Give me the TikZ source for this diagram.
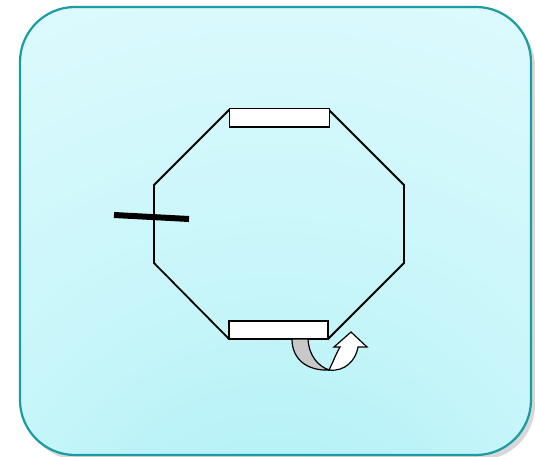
\documentclass[tikz,border=0pt]{standalone}
\usetikzlibrary{shadows}
\definecolor{frameteal}{RGB}{26,156,162}
\definecolor{cA}{RGB}{166,237,244}
\definecolor{cB}{RGB}{200,246,250}
\definecolor{cC}{RGB}{232,252,255}
\definecolor{bandgray}{RGB}{200,200,200}
\pgfdeclareradialshading{panelshade}{\pgfpoint{0bp}{-45bp}}{%
  color(0bp)=(cA); color(28bp)=(cB); color(65bp)=(cC); color(100bp)=(cC)}
\tikzset{
  edge/.style={line width=1.8pt, black},
  plate/.style={draw=black, line width=1.6pt, fill=white},
}
\begin{document}
\begin{tikzpicture}[x=1pt,y=-1pt]
\useasboundingbox (0,0) rectangle (535,457);
\fill[white] (0,0) rectangle (535,457);
% panel
\path[drop shadow={shadow xshift=4pt, shadow yshift=-5pt, opacity=0.25, fill=black!60}]
  [rounded corners=55pt] (20,7) rectangle (531,455);
\shade[shading=panelshade, rounded corners=55pt] (20,7) rectangle (531,455);
\draw[frameteal, line width=2.2pt, rounded corners=55pt] (20,7) rectangle (531,455);
% octagon vertices
\coordinate (v1) at (229,110);
\coordinate (v2) at (329,110);
\coordinate (v3) at (404,185);
\coordinate (v4) at (404,263);
\coordinate (v5) at (328,339);
\coordinate (v6) at (229,339);
\coordinate (v7) at (154,263);
\coordinate (v8) at (154,185);
\draw[edge, line join=miter] (v1) -- (v2) -- (v3) -- (v4) -- (v5) -- (v6) -- (v7) -- (v8) -- cycle;
% plates
\draw[plate] (229.5,108.5) rectangle (329.5,127);
\draw[plate] (229,321) rectangle (328,339);
% bar
\coordinate (b1) at (114,215);
\coordinate (b2) at (189,219);
\draw[line width=6pt] (b1) -- (b2);
% U-turn arrow: gray back band
\draw[line width=1.2pt, fill=bandgray]
  (292,339) -- (308,339)
  .. controls (309,356) and (318,366) .. (329,370)
  .. controls (308,371) and (292,360) .. (292,339) -- cycle;
% white front band with head
\draw[line width=1.2pt, fill=white, line join=miter]
  (329,370)
  .. controls (333,362) and (336,354) .. (340,347)
  -- (334,347) -- (351,332) -- (367,347) -- (358,347)
  .. controls (356,360) and (345,372) .. (329,370) -- cycle;
\end{tikzpicture}
\end{document}
